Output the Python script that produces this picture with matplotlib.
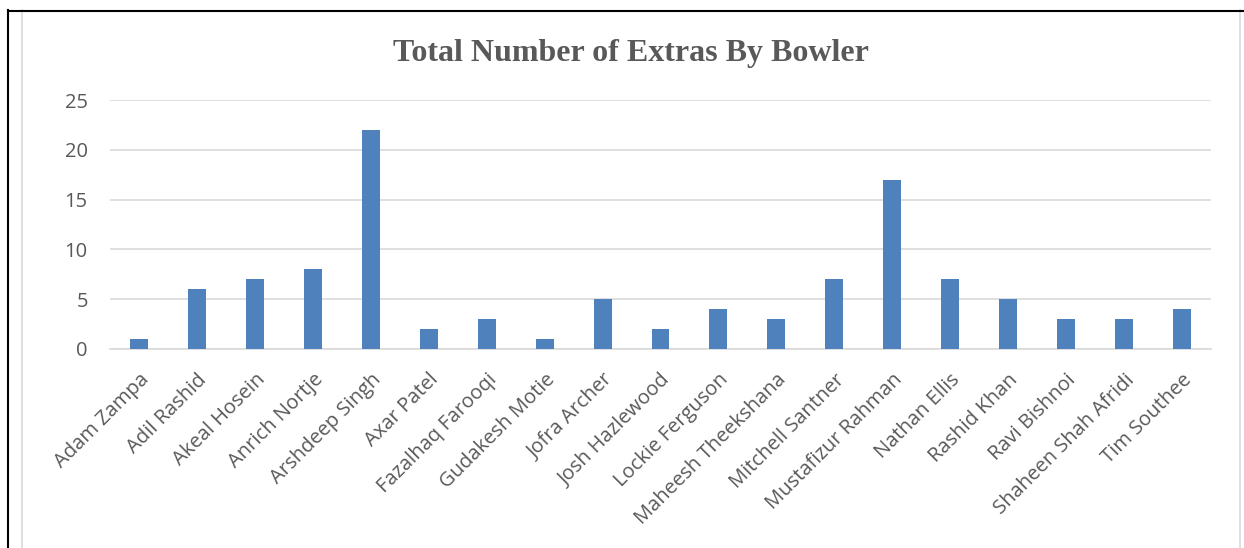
import matplotlib
matplotlib.use("Agg")
import matplotlib.pyplot as plt
import matplotlib.transforms as mtransforms
from matplotlib.lines import Line2D

bowlers = ["Adam Zampa", "Adil Rashid", "Akeal Hosein", "Anrich Nortje", "Arshdeep Singh",
           "Axar Patel", "Fazalhaq Farooqi", "Gudakesh Motie", "Jofra Archer", "Josh Hazlewood",
           "Lockie Ferguson", "Maheesh Theekshana", "Mitchell Santner", "Mustafizur Rahman",
           "Nathan Ellis", "Rashid Khan", "Ravi Bishnoi", "Shaheen Shah Afridi", "Tim Southee"]
extras = [1, 6, 7, 8, 22, 2, 3, 1, 5, 2, 4, 3, 7, 17, 7, 5, 3, 3, 4]
yticks = [0, 5, 10, 15, 20, 25]

W, H = 1244, 548
fig = plt.figure(figsize=(W / 100, H / 100), dpi=100)
# plot area in pixels: x 110..1211, y 100..349
ax = fig.add_axes([110 / W, 1 - 349 / H, 1101 / W, 249 / H])

x = range(len(bowlers))
ax.bar(x, extras, width=0.31, color="#4F81BD", zorder=3)
ax.set_xlim(-0.5, len(bowlers) - 0.5)
ax.set_ylim(0, 25)
ax.set_yticks(yticks)
ax.set_xticks(list(x))
ax.set_xticklabels(bowlers, rotation=45, ha="right", rotation_mode="anchor",
                   fontsize=14.5, color="#595959", family="Open Sans")
shift = mtransforms.ScaledTranslation(-4 / 100, 0, fig.dpi_scale_trans)
for lab in ax.get_xticklabels():
    lab.set_transform(lab.get_transform() + shift)
for lab in ax.get_yticklabels():
    lab.set_fontsize(14.5)
    lab.set_color("#595959")
    lab.set_family("Open Sans")
ax.tick_params(axis="both", length=0)
ax.tick_params(axis="y", pad=16)
ax.tick_params(axis="x", pad=15)
ax.grid(axis="y", color="#D9D9D9", linewidth=1.2, zorder=0)
for s in ["top", "right", "left"]:
    ax.spines[s].set_visible(False)
ax.spines["bottom"].set_color("#D9D9D9")
ax.spines["bottom"].set_linewidth(1.2)

fig.text(631 / W, 1 - 53 / H, "Total Number of Extras By Bowler", ha="center", va="center",
         fontsize=23, fontweight="bold", color="#595959", family="Liberation Serif")

# chart frame (light gray) and outer black lines
fig.add_artist(Line2D([21.5 / W, 21.5 / W], [0, 1 - 10 / H], color="#D9D9D9", lw=1.2))
fig.add_artist(Line2D([1240 / W, 1240 / W], [0, 1 - 10 / H], color="#D9D9D9", lw=1.2))
fig.add_artist(Line2D([8 / W, 1], [1 - 10.5 / H, 1 - 10.5 / H], color="black", lw=1.5))
fig.add_artist(Line2D([8 / W, 8 / W], [0, 1 - 10 / H], color="black", lw=1.5))

fig.savefig("out.png", dpi=100)
